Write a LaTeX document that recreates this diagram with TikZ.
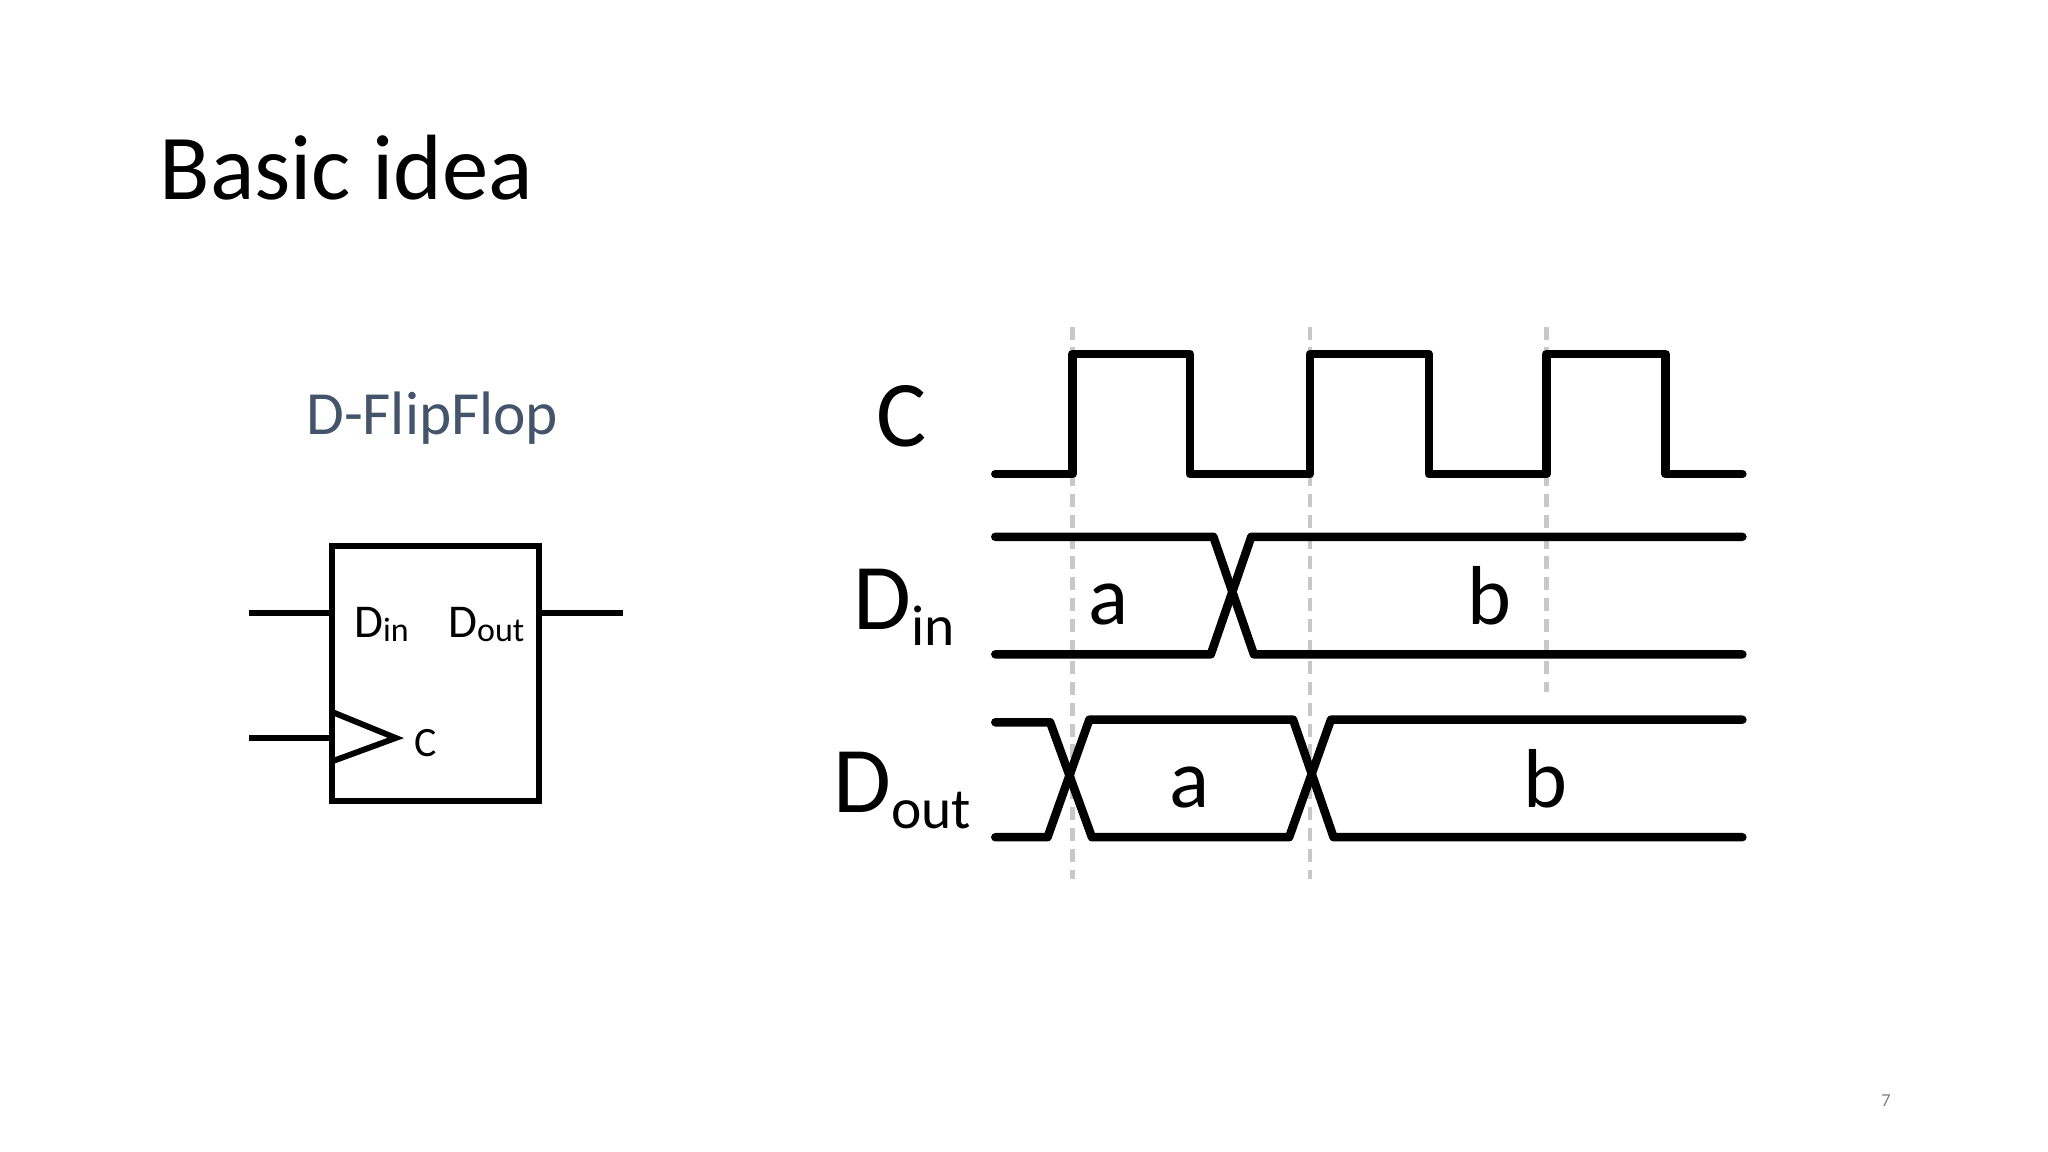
\documentclass[tikz,border=0pt]{standalone}
\usepackage{fontspec}
\setmainfont{Carlito}
\definecolor{subt}{RGB}{68,84,106}
\definecolor{guidegray}{RGB}{200,200,200}
\begin{document}
\begin{tikzpicture}[x=1pt,y=-1pt,
  sig/.style={line width=6.5pt,line cap=round,line join=round},
  box/.style={line width=4.5pt,line join=miter},
  guide/.style={draw=guidegray,line width=3.5pt,dash pattern=on 10pt off 6pt},
  big/.style={font=\fontsize{72}{72}\selectfont,inner sep=0pt},
  val/.style={font=\fontsize{64}{64}\selectfont,inner sep=0pt}]
\useasboundingbox (0,0) rectangle (1568,882);
\node[anchor=base west,inner sep=0pt,font=\fontsize{71}{71}\selectfont] (title) at (122,153) {Basic idea};
\node[anchor=base,inner sep=0pt,text=subt,font=\fontsize{47}{47}\selectfont] (sub) at (331,333) {D-FlipFlop};
% flip-flop
\draw[box] (254,418) rectangle (413,613);
\coordinate (inL) at (191,469); \coordinate (inR) at (254,469);
\coordinate (outL) at (413,469); \coordinate (outR) at (477,469);
\coordinate (ckL) at (191,565); \coordinate (ckR) at (254,565);
\draw[box] (inL) -- (inR); \draw[box] (outL) -- (outR); \draw[box] (ckL) -- (ckR);
\draw[box] (254,545) -- (303,565) -- (254,583);
\node[anchor=base west,inner sep=0pt,font=\fontsize{36}{36}\selectfont] (din) at (271,488) {D\raisebox{-3pt}{\fontsize{26}{26}\selectfont in}};
\node[anchor=base west,inner sep=0pt,font=\fontsize{36}{36}\selectfont] (dout) at (343,488) {D\raisebox{-3pt}{\fontsize{26}{26}\selectfont out}};
\node[anchor=base west,inner sep=0pt,font=\fontsize{32}{32}\selectfont] (cl) at (317,579) {C};
% guides
\draw[guide] (821,250) -- (821,673);
\draw[guide] (1003,250) -- (1003,673);
\draw[guide] (1184,250) -- (1184,530);
% clock
\draw[sig] (762,363) -- (821,363) -- (821,271) -- (911,271) -- (911,363) -- (1003,363) -- (1003,271) -- (1094,271) -- (1094,363) -- (1184,363) -- (1184,271) -- (1275,271) -- (1275,363) -- (1334,363);
% Din
\draw[sig] (762,411) -- (929,411) -- (960,501) -- (1334,501);
\draw[sig] (762,501) -- (927,501) -- (958,411) -- (1334,411);
% Dout
\draw[sig] (762,553) -- (804,553) -- (836,641) -- (987,641) -- (1019,551) -- (1334,551);
\draw[sig] (762,641) -- (802,641) -- (834,551) -- (990,551) -- (1021,641) -- (1334,641);
% labels
\node[big,anchor=base] (lc) at (690,342) {C};
\node[big,anchor=base west] (ldin) at (653,482) {D\raisebox{-12pt}{\fontsize{44}{44}\selectfont in}};
\node[big,anchor=base west] (ldout) at (638,622) {D\raisebox{-12pt}{\fontsize{44}{44}\selectfont out}};
\node[val,anchor=base] (a1) at (849,478) {a};
\node[val,anchor=base] (b1) at (1140,478) {b};
\node[val,anchor=base] (a2) at (911,618) {a};
\node[val,anchor=base] (b2) at (1183,618) {b};
\node[anchor=base,inner sep=0pt,text=gray,font=\fontsize{14}{14}\selectfont] (pg) at (1444,847) {7};
\end{tikzpicture}
\end{document}
